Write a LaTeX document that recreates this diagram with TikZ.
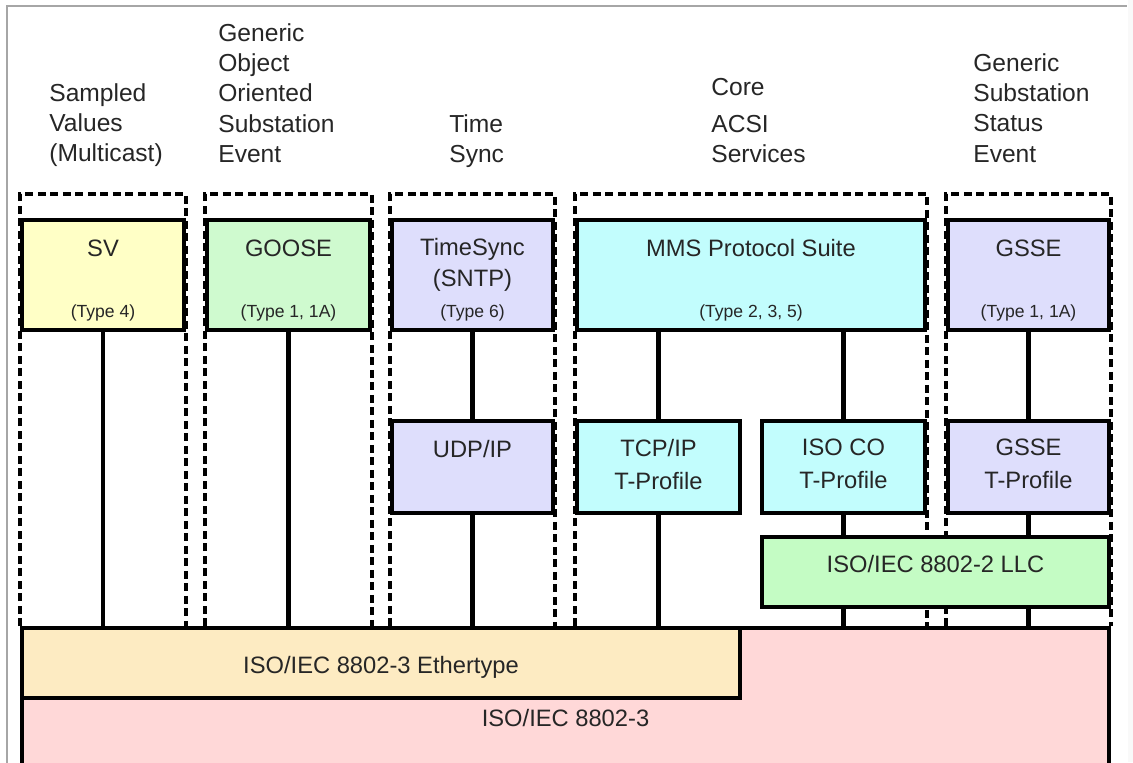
\documentclass[tikz,border=0pt]{standalone}
\usepackage{fontspec}
\setmainfont{Liberation Sans}
\usetikzlibrary{backgrounds}
\definecolor{svfill}{HTML}{FFFFC6}
\definecolor{goosefill}{HTML}{CFFACF}
\definecolor{lavfill}{HTML}{DEDEFC}
\definecolor{cyanfill}{HTML}{C2FDFD}
\definecolor{llcfill}{HTML}{C4FCC4}
\definecolor{ethfill}{HTML}{FDEBC2}
\definecolor{macfill}{HTML}{FFD8D8}
\tikzset{
  box/.style={draw=black, line width=2.3pt, inner sep=0pt},
  grp/.style={draw=black, line width=1.9pt, dash pattern=on 0.16cm off 0.09cm},
  link/.style={draw=black, line width=2.3pt},
  frame/.style={draw=gray!70, line width=0.8pt},
  headtxt/.style={font=\fontsize{14}{17.3}\selectfont, align=left, anchor=north west, inner sep=0pt, text=black!85},
  boxtxt/.style={font=\fontsize{13.5}{17.6}\selectfont, align=center, inner sep=0pt, text=black!85},
  typetxt/.style={font=\fontsize{10}{12}\selectfont, anchor=base, inner sep=0pt, text=black!85}
}

\begin{document}
\begin{tikzpicture}[x=0.02cm, y=-0.02cm]
  \useasboundingbox (0,0) rectangle (1133,762);
  \clip (0,0) rectangle (1133,762);
  \fill[gray!5] (1128,0) rectangle (1133,762);
  \draw[frame] (7,780) |- (1127,6);

  % service headings
  \node[headtxt] (h-sv) at (49,83) {Sampled\\Values\\(Multicast)};
  \node[headtxt] (h-goose) at (218,23) {Generic\\Object\\Oriented\\Substation\\Event};
  \node[headtxt] (h-time) at (449,114) {Time\\Sync};
  \node[headtxt] (h-core) at (711,78) {Core\\[0.13cm]ACSI\\Services};
  \node[headtxt] (h-gsse) at (973,53) {Generic\\Substation\\Status\\Event};

  % link layers
  \node[box, fill=macfill, minimum width=21.74cm, minimum height=3.44cm] (mac) at (565.5,714) {};
  \node[box, fill=ethfill, minimum width=14.36cm, minimum height=1.4cm] (eth) at (381,663) {};
  \node[box, fill=llcfill, minimum width=6.94cm, minimum height=1.4cm] (llc) at (935.5,572) {};
  \node[boxtxt, anchor=base] (mac-txt) at (565.5,726) {ISO/IEC 8802-3};
  \node[boxtxt, anchor=base] (eth-txt) at (381,673) {ISO/IEC 8802-3 Ethertype};
  \node[boxtxt, anchor=base] (llc-txt) at (935.5,572) {ISO/IEC 8802-2 LLC};

  % transport profiles
  \node[box, fill=lavfill, minimum width=3.22cm, minimum height=1.84cm] (udp) at (472.5,467) {};
  \node[box, fill=cyanfill, minimum width=3.26cm, minimum height=1.84cm] (tcp) at (658.5,467) {};
  \node[box, fill=cyanfill, minimum width=3.26cm, minimum height=1.84cm] (isoco) at (843.5,467) {};
  \node[box, fill=lavfill, minimum width=3.22cm, minimum height=1.84cm] (gssetp) at (1028.5,467) {};
  \node[boxtxt, anchor=base] (udp-txt) at (472.5,457) {UDP/IP};
  \node[boxtxt, anchor=north] (tcp-txt) at (658.5,439) {TCP/IP\\[0.04cm]T-Profile};
  \node[boxtxt, anchor=north] (isoco-txt) at (843.5,439) {ISO CO\\[0.04cm]T-Profile};
  \node[boxtxt, anchor=north] (gssetp-txt) at (1028.5,439) {GSSE\\[0.04cm]T-Profile};

  % services
  \node[box, fill=svfill, minimum width=3.24cm, minimum height=2.2cm] (sv) at (103,275) {};
  \node[box, fill=goosefill, minimum width=3.26cm, minimum height=2.2cm] (goose) at (288.5,275) {};
  \node[box, fill=lavfill, minimum width=3.22cm, minimum height=2.2cm] (tsync) at (472.5,275) {};
  \node[box, fill=cyanfill, minimum width=6.96cm, minimum height=2.2cm] (mms) at (751,275) {};
  \node[box, fill=lavfill, minimum width=3.22cm, minimum height=2.2cm] (gsse) at (1028.5,275) {};
  \node[boxtxt, anchor=base] (sv-txt) at (103,256.5) {SV};
  \node[boxtxt, anchor=base] (goose-txt) at (288.5,256.5) {GOOSE};
  \node[boxtxt, anchor=north] (tsync-txt) at (472.5,238) {TimeSync\\(SNTP)};
  \node[boxtxt, anchor=base] (mms-txt) at (751,256.5) {MMS Protocol Suite};
  \node[boxtxt, anchor=base] (gsse-txt) at (1028.5,256.5) {GSSE};
  \node[typetxt] (sv-type) at (103,317) {(Type 4)};
  \node[typetxt] (goose-type) at (288.5,317) {(Type 1, 1A)};
  \node[typetxt] (tsync-type) at (472.5,317) {(Type 6)};
  \node[typetxt] (mms-type) at (751,317) {(Type 2, 3, 5)};
  \node[typetxt] (gsse-type) at (1028.5,317) {(Type 1, 1A)};

  % stack links
  \draw[link] (sv.south) -- (sv.south |- eth.north);
  \draw[link] (goose.south) -- (goose.south |- eth.north);
  \draw[link] (tsync.south) -- (udp.north);
  \draw[link] (udp.south) -- (udp.south |- eth.north);
  \draw[link] (tcp.north |- mms.south) -- (tcp.north);
  \draw[link] (tcp.south) -- (tcp.south |- eth.north);
  \draw[link] (isoco.north |- mms.south) -- (isoco.north);
  \draw[link] (isoco.south) -- (isoco.south |- llc.north);
  \draw[link] (isoco.south |- llc.south) -- (isoco.south |- mac.north);
  \draw[link] (gsse.south) -- (gssetp.north);
  \draw[link] (gssetp.south) -- (gssetp.south |- llc.north);
  \draw[link] (gssetp.south |- llc.south) -- (gssetp.south |- mac.north);

  % dashed service groups
  \coordinate (gtop) at (0,194);
  \begin{scope}[on background layer]
    \foreach \g in {sv,goose,tsync,mms,gsse}
      \draw[grp] (\g.west |- mac.north) |- (gtop -| \g.east) -- (\g.east |- mac.north);
  \end{scope}
\end{tikzpicture}
\end{document}
